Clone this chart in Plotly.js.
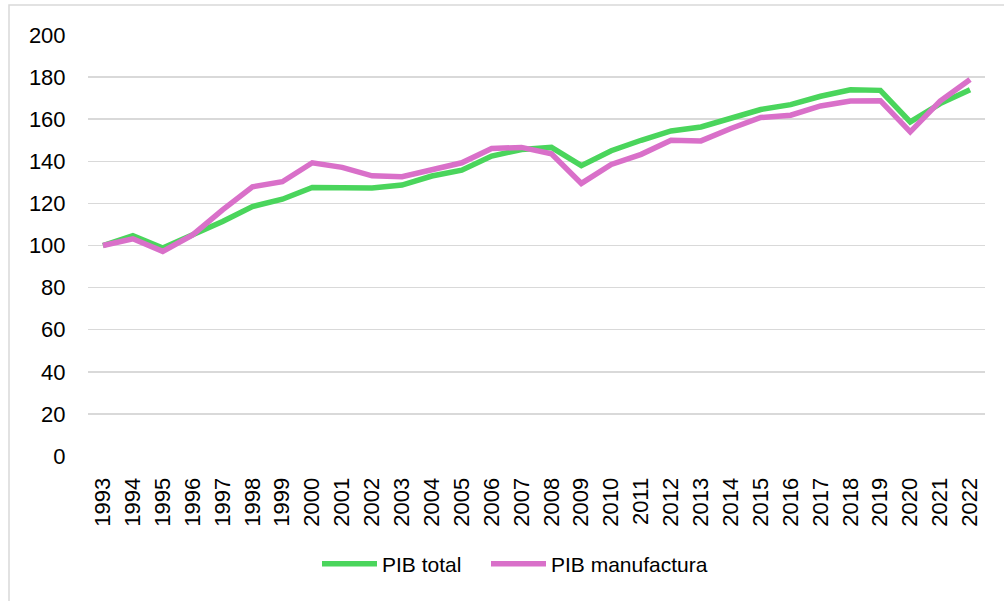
<!DOCTYPE html>
<html>
<head>
<meta charset="utf-8">
<script src="https://cdn.plot.ly/plotly-3.0.1.min.js"></script>
<style>
  html, body { margin: 0; padding: 0; background: #ffffff; }
  #chart { width: 1004px; height: 601px; }
</style>
</head>
<body>
<div id="chart"></div>
<script>
// Índice del PIB (1993 = 100)
const years = [
  "1993","1994","1995","1996","1997","1998","1999","2000","2001","2002",
  "2003","2004","2005","2006","2007","2008","2009","2010","2011","2012",
  "2013","2014","2015","2016","2017","2018","2019","2020","2021","2022"
];
const pibTotal = [
  100.0, 104.7, 98.8, 105.0, 111.4, 118.5, 122.0, 127.6, 127.4, 127.3,
  128.7, 133.0, 135.8, 142.5, 145.6, 146.6, 137.9, 145.0, 150.0, 154.4,
  156.3, 160.3, 164.6, 166.9, 170.9, 174.0, 173.7, 158.7, 167.4, 174.0
];
const pibManufactura = [
  100.0, 103.2, 97.2, 105.0, 116.9, 127.9, 130.3, 139.3, 137.1, 133.1,
  132.7, 135.8, 139.3, 146.1, 146.6, 143.6, 129.5, 138.5, 143.3, 150.0,
  149.7, 155.6, 160.8, 161.9, 166.3, 168.6, 168.8, 154.0, 168.6, 178.9
];
const seriesNames = ["PIB total", "PIB manufactura"];
const yTicks = [0, 20, 40, 60, 80, 100, 120, 140, 160, 180, 200];

const FONT = "Liberation Sans, Arial, sans-serif";

const traces = [
  {
    x: years, y: pibTotal, name: seriesNames[0], type: "scatter", mode: "lines",
    line: { color: "#4ad55c", width: 5.5 },
    legend: "legend"
  },
  {
    x: years, y: pibManufactura, name: seriesNames[1], type: "scatter", mode: "lines",
    line: { color: "#d970c9", width: 5.5 },
    legend: "legend2"
  }
];

// plot area: x 88..985, y 35..456
const L = 88, R = 19, T = 35, B = 145, W = 1004, H = 601;
const pw = W - L - R, ph = H - T - B;

// one legend box per series so the entries sit apart like the original key
function legendAt(leftPx) {
  return {
    orientation: "h",
    x: (leftPx - L) / pw, xanchor: "left",
    y: -(564 - (T + ph)) / ph, yanchor: "middle",
    font: { family: FONT, size: 21, color: "#000000" },
    itemwidth: 55,
    bgcolor: "rgba(0,0,0,0)"
  };
}

const layout = {
  width: W, height: H,
  margin: { l: L, r: R, t: T, b: B, pad: 0 },
  paper_bgcolor: "#ffffff",
  plot_bgcolor: "#ffffff",
  font: { family: FONT, size: 22, color: "#000000" },
  showlegend: true,
  legend: legendAt(317),
  legend2: legendAt(486),
  xaxis: {
    type: "category",
    tickangle: -90,
    showgrid: false,
    showline: false,
    zeroline: false,
    ticks: "outside", ticklen: 12, tickcolor: "rgba(0,0,0,0)",
    tickfont: { family: FONT, size: 22, color: "#000000" },
    range: [-0.5, years.length - 0.5],
    fixedrange: true
  },
  yaxis: {
    range: [0, 200],
    tickmode: "array",
    tickvals: yTicks,
    ticktext: yTicks.map(String),
    showgrid: true,
    gridcolor: "#d9d9d9",
    gridwidth: 1.5,
    zeroline: false,
    showline: false,
    ticks: "outside", ticklen: 17, tickcolor: "rgba(0,0,0,0)",
    tickfont: { family: FONT, size: 22, color: "#000000" },
    fixedrange: true
  },
  shapes: [
    {
      type: "rect", xref: "paper", yref: "paper",
      x0: (9 - L) / pw, x1: (1010 - L) / pw,
      y0: -(620 - (T + ph)) / ph, y1: 1 + (T - 5) / ph,
      line: { color: "#d9d9d9", width: 1.5 },
      fillcolor: "rgba(0,0,0,0)",
      layer: "below"
    }
  ]
};

Plotly.newPlot("chart", traces, layout, { displayModeBar: false, staticPlot: true });
</script>
</body>
</html>
